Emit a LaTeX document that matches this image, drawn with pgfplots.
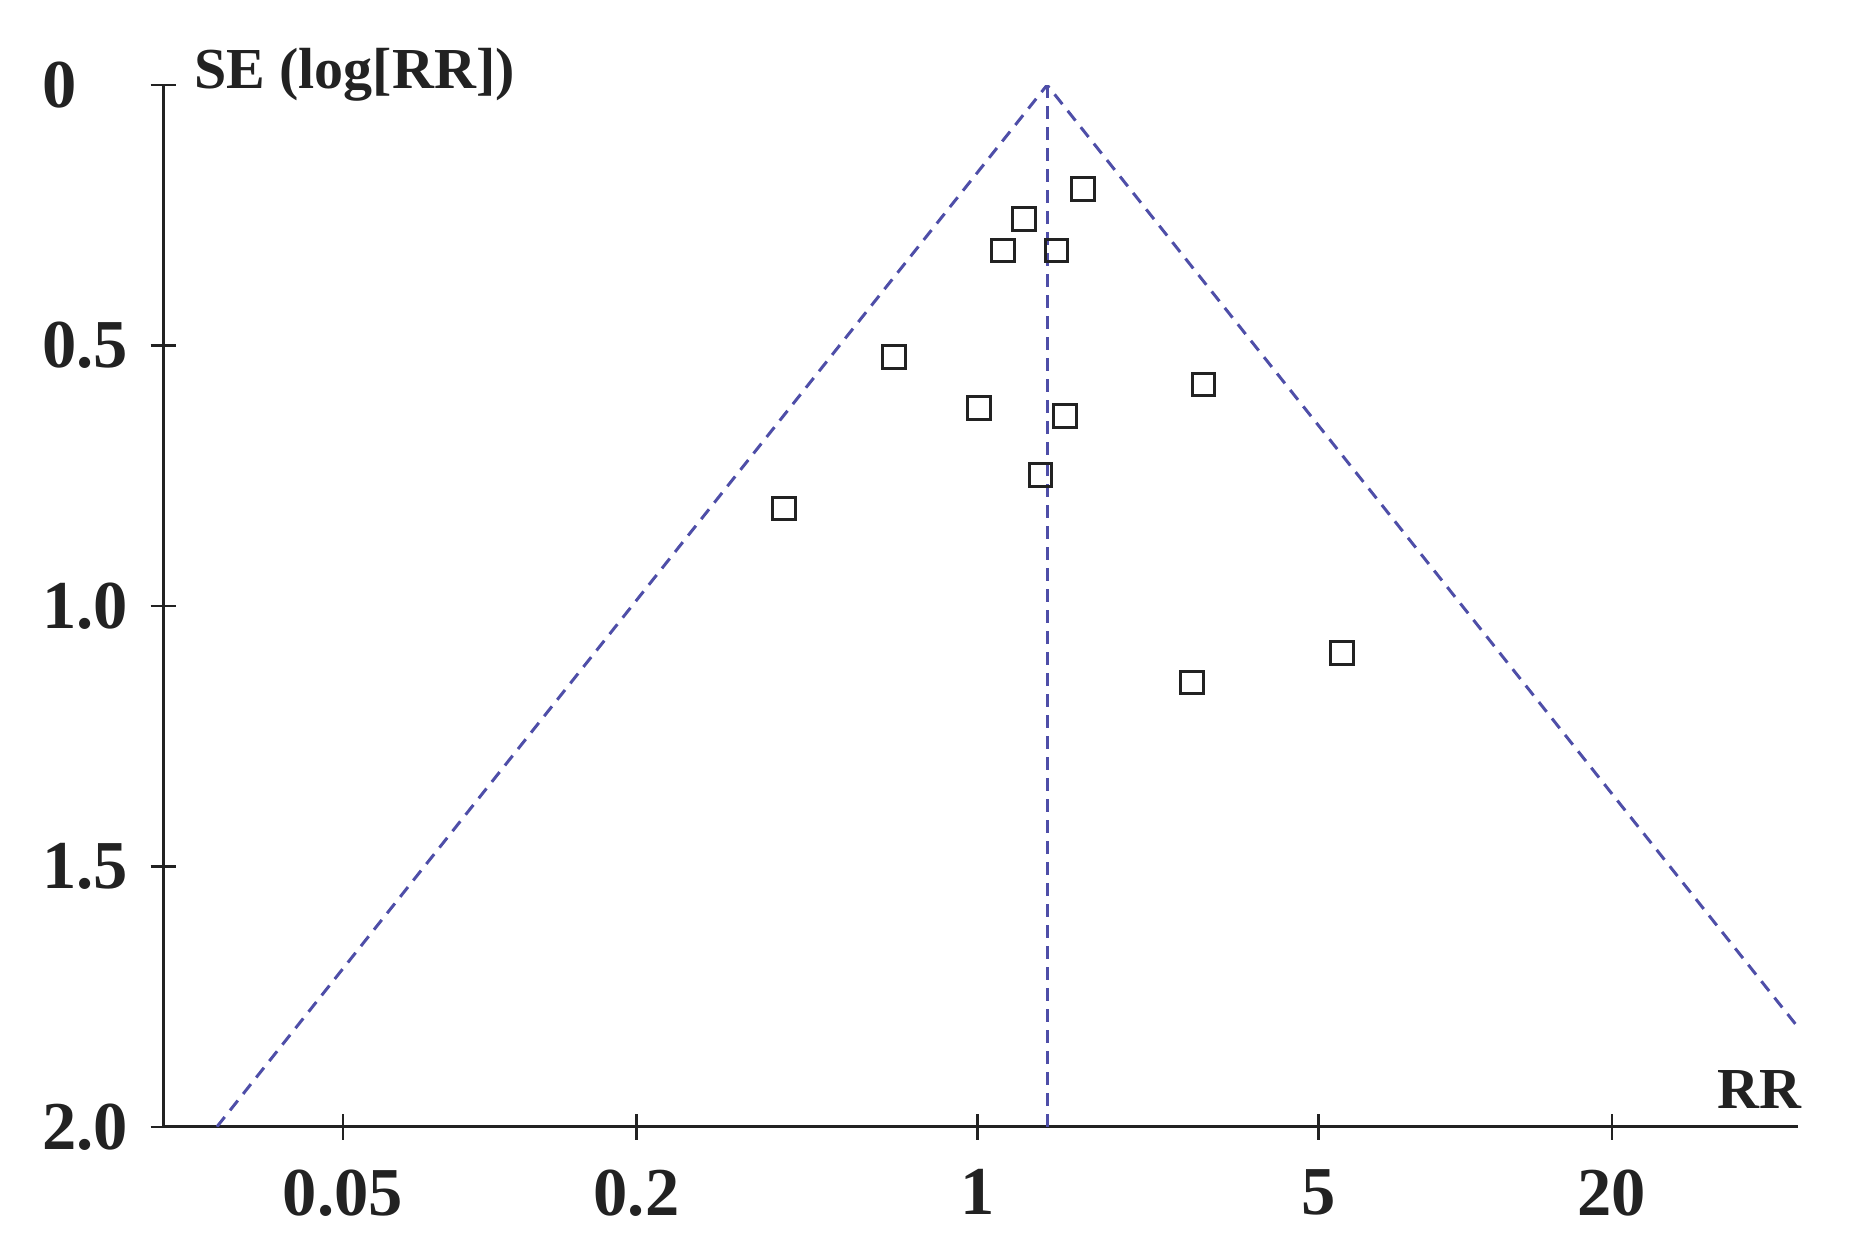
\documentclass[border=0pt]{standalone}
\usepackage{fontspec}
\setmainfont{Liberation Serif}
\usepackage{pgfplots}
\pgfplotsset{compat=1.18}
\definecolor{axisgray}{RGB}{34,34,34}
\definecolor{funnelblue}{RGB}{78,78,168}

% studies: RR, SE(log RR)
\pgfplotstableread{
rr     se
1.648  0.200
1.246  0.257
1.129  0.318
1.454  0.318
0.674  0.522
2.911  0.575
1.007  0.620
1.514  0.636
1.347  0.749
0.401  0.813
5.594  1.090
2.754  1.147
}\studies

\begin{document}
\begin{tikzpicture}
\begin{axis}[
    name=ax,
    scale only axis,
    width=163.42mm,
    height=104.17mm,
    xmode=log,
    xmin=0.02143, xmax=48.1,
    ymin=0, ymax=2,
    y dir=reverse,
    axis x line=bottom,
    axis y line=left,
    axis line style={-, axisgray, line width=0.28mm},
    xtick={0.05,0.2,1,5,20},
    xticklabels={0.05,0.2,1,5,20},
    ytick={0,0.5,1,1.5,2},
    yticklabels={0,0.5,1.0,1.5,2.0},
    xminorticks=false,
    yminorticks=false,
    tick align=center,
    major tick length=2.6mm,
    tick style={axisgray, line width=0.25mm},
    ticklabel style={font=\fontsize{19.5}{21}\selectfont\bfseries, inner sep=0pt, text=axisgray},
    xticklabel style={anchor=north, yshift=-2.9mm},
    yticklabel style={anchor=west, xshift=-10.9mm},
    clip mode=individual,
]
\addplot[funnelblue, line width=0.3mm, dash pattern=on 1.25mm off 0.85mm]
    coordinates {(0.02758,2) (1.39,0) (70.05,2)};
\addplot[funnelblue, line width=0.3mm, dash pattern=on 1.25mm off 0.85mm]
    coordinates {(1.39,0) (1.39,2)};
\addplot[only marks, mark=square, mark size=1.13mm,
    mark options={draw=axisgray, line width=0.3mm, fill=none}]
    table[x=rr, y=se] {\studies};
\node[anchor=base west, inner sep=0pt, text=axisgray,
    font=\fontsize{16.5}{18}\selectfont\bfseries]
    at (axis description cs:0,1) [xshift=3mm, yshift=-0.3mm] {SE (log[RR])};
\node[anchor=base east, inner sep=0pt, text=axisgray,
    font=\fontsize{16.5}{18}\selectfont\bfseries]
    at (axis description cs:1,0) [xshift=0.45mm, yshift=1.87mm] {RR};
\end{axis}
\pgfresetboundingbox
\path[use as bounding box]
    ([xshift=-16.35mm, yshift=-12.83mm]ax.south west)
    rectangle ([xshift=5.63mm, yshift=8.5mm]ax.north east);
\end{tikzpicture}
\end{document}
